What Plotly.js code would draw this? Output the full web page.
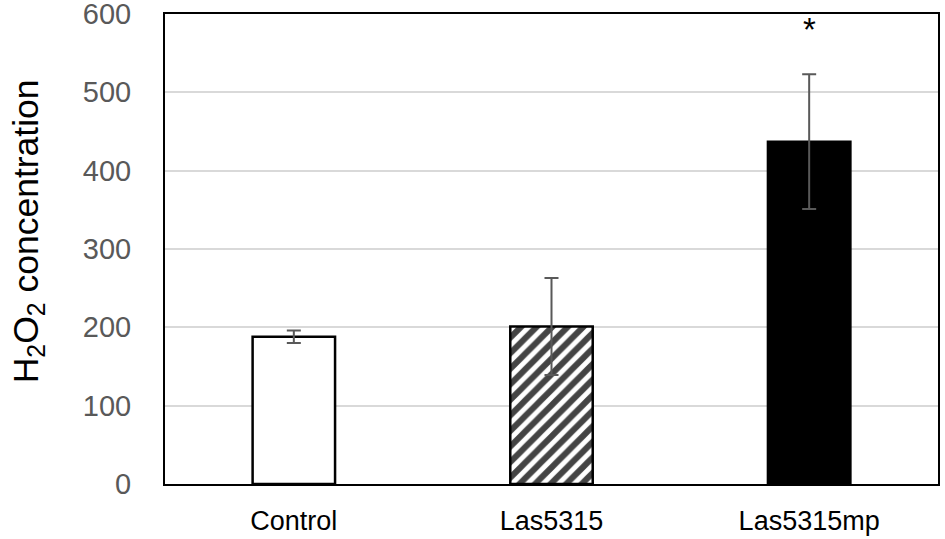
<!DOCTYPE html>
<html>
<head>
<meta charset="utf-8">
<script src="https://cdn.plot.ly/plotly-3.0.1.min.js"></script>
<style>html,body{margin:0;padding:0;background:#fff;}#chart{width:945px;height:539px;}</style>
</head>
<body>
<div id="chart"></div>
<script>
const categories = ["Control", "Las5315", "Las5315mp"];
const values = [188, 201, 437];
const errors = [8, 62, 86];
const yTicks = [0, 100, 200, 300, 400, 500, 600];
const significance = ["", "", "*"];
const yTitle = "H<sub>2</sub>O<sub>2</sub> concentration";

const trace = {
  type: "bar",
  x: categories,
  y: values,
  error_y: {type: "data", array: errors, visible: true, color: "#595959", thickness: 2, width: 7},
  marker: {
    color: ["#ffffff", "#ffffff", "#000000"],
    line: {color: "#000000", width: 2.5},
    pattern: {shape: ["", "/", ""], fgcolor: "#000000", bgcolor: "#ffffff", fgopacity: 1, size: 11, solidity: 0.55, fillmode: "overlay"}
  },
  hoverinfo: "none"
};

const annotations = categories.map((c, i) => ({
  x: c, y: 580, text: significance[i], showarrow: false,
  font: {family: "Liberation Sans, Arial, sans-serif", size: 33, color: "#000"}
})).filter(a => a.text);

annotations.push({
  xref: "paper", yref: "paper", x: -0.177, y: 0.538,
  xanchor: "center", yanchor: "middle",
  text: yTitle, textangle: -90, showarrow: false,
  font: {family: "Liberation Sans, Arial, sans-serif", size: 35.5, color: "#000"}
});

const layout = {
  width: 945, height: 539,
  margin: {l: 165, r: 7, t: 14, b: 55},
  paper_bgcolor: "#fff", plot_bgcolor: "#fff",
  showlegend: false,
  bargap: 0.68,
  font: {family: "Liberation Sans, Arial, sans-serif"},
  xaxis: {
    type: "category",
    showline: true, mirror: true, linecolor: "#000", linewidth: 2,
    ticks: "", showgrid: false,
    tickfont: {size: 27, color: "#000"},
    ticklabelstandoff: 12
  },
  yaxis: {
    range: [0, 600],
    tickvals: yTicks,
    showline: true, mirror: true, linecolor: "#000", linewidth: 2,
    showgrid: true, gridcolor: "#d9d9d9", gridwidth: 2,
    zeroline: false, ticks: "",
    tickfont: {size: 29, color: "#595959"},
    ticklabelstandoff: 26,
    ticklabeloverflow: "allow"
  },
  annotations: annotations
};

Plotly.newPlot("chart", [trace], layout, {displayModeBar: false, staticPlot: true});
</script>
</body>
</html>
